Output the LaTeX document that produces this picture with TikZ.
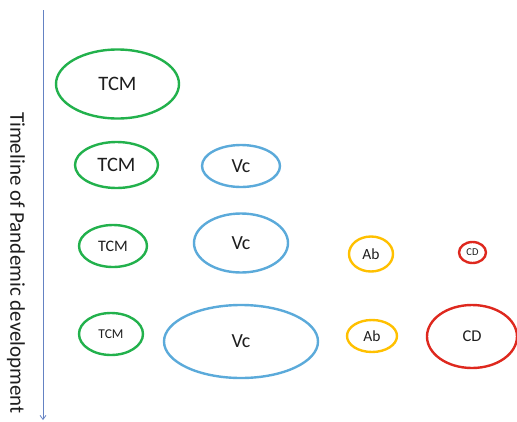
\documentclass[tikz,border=0pt]{standalone}
\usepackage{fontspec}
\setmainfont{Carlito}
\usetikzlibrary{shapes.geometric,arrows.meta}
\definecolor{tcmgreen}{RGB}{34,177,76}
\definecolor{vcblue}{RGB}{91,170,218}
\definecolor{abyellow}{RGB}{255,192,0}
\definecolor{cdred}{RGB}{222,40,30}
\definecolor{axisblue}{RGB}{100,130,195}
\definecolor{txt}{RGB}{30,30,30}
\tikzset{
  x=1pt, y=-1pt,
  blob/.style={ellipse, draw, line width=2.4pt, inner sep=0pt, text=txt},
  tcm/.style={blob, draw=tcmgreen},
  vc/.style={blob, draw=vcblue},
  ab/.style={blob, draw=abyellow},
  cd/.style={blob, draw=cdred},
}
\begin{document}
\begin{tikzpicture}
\useasboundingbox (0,0) rectangle (517,421);
% time axis
\coordinate (top) at (43,10);
\coordinate (bot) at (43,420);
\draw[axisblue, line width=0.8pt, -{Straight Barb[length=4pt,width=6pt]}] (top) -- (bot);
\node[rotate=-90, text=txt, font=\fontsize{21}{25}\selectfont] (axlabel) at (16,263) {Timeline of Pandemic development};
% stage 1
\node[tcm, minimum width=123pt, minimum height=69pt, font=\fontsize{20.5}{24}\selectfont] (t1) at (117.5,84) {TCM};
% stage 2
\node[tcm, minimum width=83pt, minimum height=46pt, font=\fontsize{20.5}{24}\selectfont] (t2) at (116.5,165) {TCM};
\node[vc, minimum width=78pt, minimum height=42pt, font=\fontsize{20}{24}\selectfont] (v2) at (241,166) {Vc};
% stage 3
\node[tcm, minimum width=68pt, minimum height=42pt, font=\fontsize{16}{19}\selectfont] (t3) at (113,246) {TCM};
\node[vc, minimum width=94pt, minimum height=59pt, font=\fontsize{20}{24}\selectfont] (v3) at (241,243) {Vc};
\node[ab, minimum width=44pt, minimum height=35pt, font=\fontsize{15.5}{18}\selectfont] (a3) at (371,254) {Ab};
\node[cd, minimum width=27pt, minimum height=21pt, font=\fontsize{10.5}{12}\selectfont] (c3) at (472.5,252.5) {CD};
% stage 4
\node[tcm, minimum width=64pt, minimum height=42pt, font=\fontsize{13.5}{16}\selectfont] (t4) at (111,334) {TCM};
\node[vc, minimum width=154pt, minimum height=73pt, font=\fontsize{20}{24}\selectfont] (v4) at (241,341.5) {Vc};
\node[ab, minimum width=50pt, minimum height=32pt, font=\fontsize{15.5}{18}\selectfont] (a4) at (372,336) {Ab};
\node[cd, minimum width=90pt, minimum height=63pt, font=\fontsize{16.5}{19}\selectfont] (c4) at (472,336.5) {CD};
\end{tikzpicture}
\end{document}
